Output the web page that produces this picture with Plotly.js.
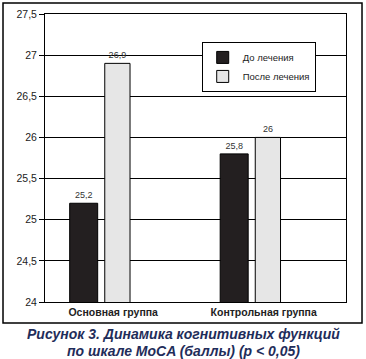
<!DOCTYPE html>
<html><head><meta charset="utf-8">
<script src="https://cdn.plot.ly/plotly-3.0.1.min.js"></script>
<style>html,body{margin:0;padding:0;background:#fff}</style>
</head><body><div id="chart" style="width:366px;height:359px"></div>
<script>
const categories = ['Основная группа', 'Контрольная группа'];
const seriesNames = ['До лечения', 'После лечения'];
const beforeValues = [25.2, 25.8];
const afterValues = [26.9, 26];
const yTickVals = [24, 24.5, 25, 25.5, 26, 26.5, 27, 27.5];
const captionLines = ['Рисунок 3. Динамика когнитивных функций', 'по шкале MoCA (баллы) (p < 0,05)'];

const fmt = v => String(v).replace('.', ',');
const FONT = 'Liberation Sans, Arial, sans-serif';

const traces = [
  {
    type: 'bar', name: seriesNames[0], x: categories, y: beforeValues,
    text: beforeValues.map(fmt), textposition: 'outside', cliponaxis: false, constraintext: 'none',
    textfont: {size: 9, color: '#333', family: FONT},
    offset: -0.289, width: 0.186,
    marker: {color: '#231f20', line: {color: '#000', width: 1}},
    hoverinfo: 'skip'
  },
  {
    type: 'bar', name: seriesNames[1], x: categories, y: afterValues,
    text: afterValues.map(fmt), textposition: 'outside', cliponaxis: false, constraintext: 'none',
    textfont: {size: 9, color: '#333', family: FONT},
    offset: -0.056, width: 0.168,
    marker: {color: '#e6e6e6', line: {color: '#000', width: 1}},
    hoverinfo: 'skip'
  }
];

const layout = {
  width: 366, height: 359,
  margin: {l: 45, r: 20, t: 14, b: 57},
  paper_bgcolor: '#fff', plot_bgcolor: '#fff',
  separators: ', ',
  font: {family: FONT, color: '#222', size: 11},
  barmode: 'group',
  showlegend: true,
  legend: {
    x: 0.71, xanchor: 'center', y: 0.903, yanchor: 'top',
    bgcolor: '#fff', bordercolor: '#000', borderwidth: 1,
    font: {size: 9.5, color: '#222', family: FONT},
    itemwidth: 30, tracegroupgap: 0
  },
  xaxis: {
    type: 'category', range: [-0.453, 1.547],
    showline: true, mirror: true, linecolor: '#000', linewidth: 1,
    showgrid: false, ticks: '',
    tickfont: {size: 10.5, color: '#222', family: FONT, weight: 'bold'},
    fixedrange: true
  },
  yaxis: {
    range: [24, 27.5], tickvals: yTickVals,
    showline: true, mirror: true, linecolor: '#000', linewidth: 1,
    showgrid: true, gridcolor: '#000', gridwidth: 1,
    ticks: 'outside', ticklen: 5, tickcolor: '#000',
    tickfont: {size: 10.5, color: '#222', family: FONT},
    zeroline: false, fixedrange: true
  },
  shapes: [
    {type: 'rect', xref: 'paper', yref: 'paper', x0: -0.1395, x1: 1.0532, y0: -0.0729, y1: 1.0382,
     line: {color: '#000', width: 1.5}, fillcolor: 'rgba(0,0,0,0)'}
  ],
  annotations: captionLines.map((t, i) => ({
    text: t, xref: 'paper', yref: 'paper', x: 0.4585, y: i === 0 ? -0.111 : -0.170,
    xanchor: 'center', yanchor: 'middle', showarrow: false,
    font: {family: FONT, size: 14, color: '#1f2d5a', weight: 'bold', style: 'italic'}
  }))
};

Plotly.newPlot('chart', traces, layout, {displayModeBar: false, staticPlot: true});
</script></body></html>
